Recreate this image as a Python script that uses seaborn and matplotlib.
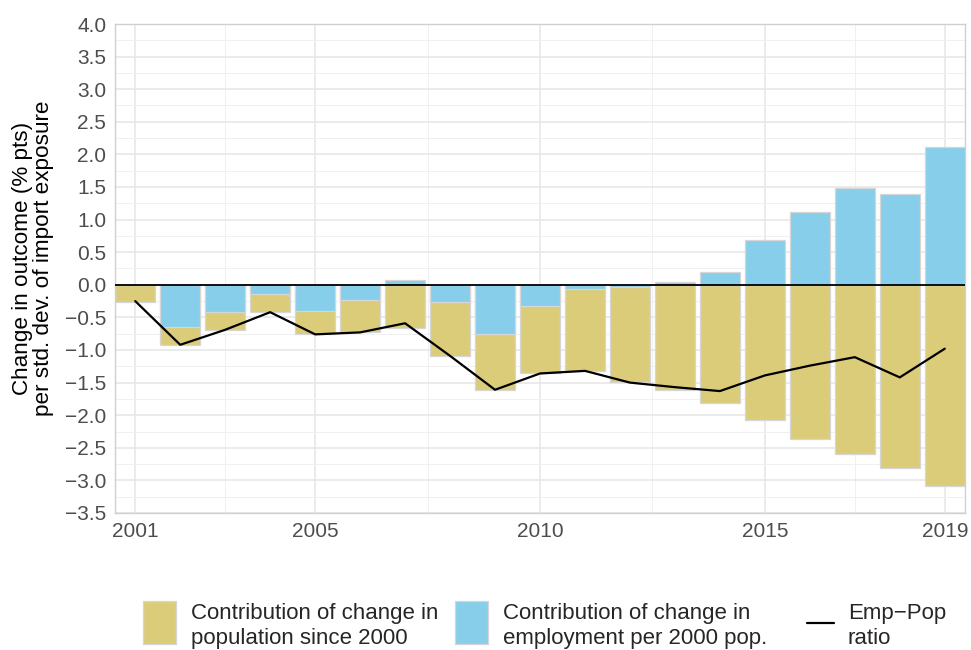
import numpy as np
import pandas as pd
import matplotlib
matplotlib.use("Agg")
import matplotlib.pyplot as plt
import seaborn as sns
from matplotlib.patches import Patch
from matplotlib.lines import Line2D

# ---------------- data ----------------
years = list(range(2001, 2020))
emp_contrib = [0.00, -0.64, -0.41, -0.14, -0.40, -0.24, 0.07, -0.26, -0.75, -0.32,
               -0.06, -0.03, 0.05, 0.19, 0.69, 1.12, 1.48, 1.39, 2.11]
pop_contrib = [-0.26, -0.28, -0.28, -0.28, -0.35, -0.48, -0.66, -0.83, -0.86, -1.04,
               -1.26, -1.46, -1.62, -1.82, -2.08, -2.36, -2.59, -2.81, -3.09]
emp_pop_ratio = [-0.25, -0.92, -0.69, -0.42, -0.76, -0.73, -0.59, -1.09, -1.61, -1.36,
                 -1.32, -1.50, -1.57, -1.63, -1.39, -1.24, -1.11, -1.42, -0.98]
x_ticks = [2001, 2005, 2010, 2015, 2019]
x_minor = [2003, 2007.5, 2012.5, 2017]
y_ticks = [4.0, 3.5, 3.0, 2.5, 2.0, 1.5, 1.0, 0.5, 0.0, -0.5, -1.0, -1.5, -2.0,
           -2.5, -3.0, -3.5]
ylabel = "Change in outcome (% pts)\nper std. dev. of import exposure"
legend_labels = ["Contribution of change in\npopulation since 2000",
                 "Contribution of change in\nemployment per 2000 pop.",
                 "Emp\u2212Pop\nratio"]

# ---------------- style ----------------
TAN = "#DBCC79"
BLUE = "#87CEEB"
EDGE = "#d6d6d6"
sns.set_style("white")
plt.rcParams["font.family"] = ["Liberation Sans", "DejaVu Sans"]

df = pd.DataFrame({"year": years, "emp": emp_contrib, "pop": pop_contrib,
                   "ratio": emp_pop_ratio})
# stacked layout (as position_stack): negatives stack emp first, then pop
df["pop_end"] = df["pop"] + df["emp"].clip(upper=0)

fig = plt.figure(figsize=(9.71, 6.5), dpi=100)
ax = fig.add_axes([115 / 971, 1 - 513 / 650, 850 / 971, 489 / 650])

sns.barplot(data=df, x="year", y="pop_end", native_scale=True, color=TAN,
            saturation=1, width=0.9, edgecolor=EDGE, linewidth=0.9,
            errorbar=None, ax=ax, zorder=2)
sns.barplot(data=df, x="year", y="emp", native_scale=True, color=BLUE,
            saturation=1, width=0.9, edgecolor=EDGE, linewidth=0.9,
            errorbar=None, ax=ax, zorder=3)
ax.axhline(0, color="black", lw=1.3, zorder=4)
sns.lineplot(data=df, x="year", y="ratio", color="black", lw=1.6, ax=ax,
             zorder=5, legend=False)

ax.set_xlim(2000.55, 2019.45)
ax.set_ylim(-3.5, 4.0)
ax.set_xticks(x_ticks)
ax.set_xticklabels([str(v) for v in x_ticks])
ax.set_xticks(x_minor, minor=True)
ax.set_yticks(y_ticks)
ax.set_yticklabels([f"{v:.1f}".replace("-", "\u2212") for v in y_ticks])
ax.set_yticks([v + 0.25 for v in y_ticks[1:]], minor=True)

ax.set_axisbelow(True)
ax.grid(which="major", color="#e6e6e6", lw=1.1)
ax.grid(which="minor", color="#f0f0f0", lw=0.7)
for s in ax.spines.values():
    s.set_color("#d0d0d0")
    s.set_linewidth(1.0)
ax.tick_params(which="major", length=3.8, width=1.0, color="#333333",
               labelcolor="#4d4d4d", labelsize=15, pad=2.5)
ax.tick_params(which="minor", length=0)
ax.set_xlabel("")
ax.set_ylabel("")

fig.text(33 / 971, 1 - 258 / 650, ylabel, rotation=90, ha="center", va="center",
         ma="center", fontsize=16.2, color="black", linespacing=0.95)

handles_fill = [Patch(facecolor=TAN, edgecolor=EDGE, lw=0.9),
                Patch(facecolor=BLUE, edgecolor=EDGE, lw=0.9)]
leg1 = fig.legend(handles_fill, legend_labels[:2], loc="center left",
                  bbox_to_anchor=(143 / 971, 1 - 626 / 650), ncol=2, frameon=False,
                  borderpad=0, borderaxespad=0, fontsize=16, handlelength=1.5,
                  handleheight=2.6, handletextpad=0.68, columnspacing=0.72)
for p in leg1.legend_handles:
    p.set_y(p.get_y() + 3.2)
handles_line = [Line2D([0], [0], color="black", lw=1.6)]
leg2 = fig.legend(handles_line, legend_labels[2:], loc="center left",
                  bbox_to_anchor=(807 / 971, 1 - 626 / 650), frameon=False,
                  borderpad=0, borderaxespad=0, fontsize=16, handlelength=1.2,
                  handleheight=2.6, handletextpad=0.63)
for ln in leg2.legend_handles:
    ln.set_ydata(np.asarray(ln.get_ydata(), dtype=float) - 2.2)

fig.savefig("out.png", dpi=100)
